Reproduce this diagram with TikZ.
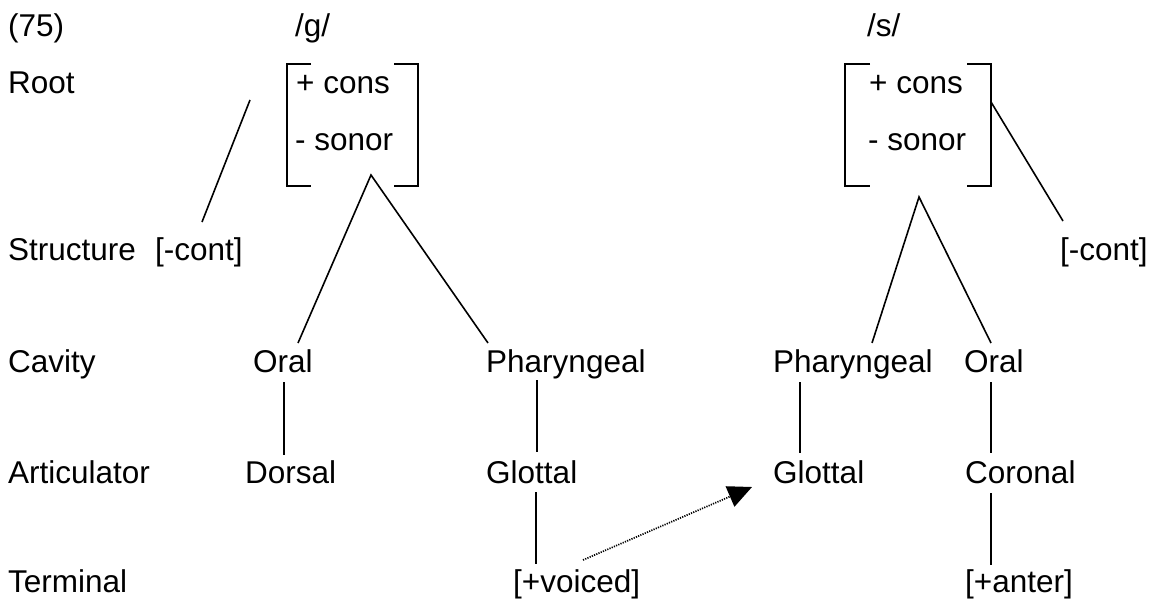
\documentclass[tikz,border=0pt]{standalone}
\usepackage{fontspec}
\setmainfont{Liberation Sans}
\usetikzlibrary{arrows.meta}
\begin{document}
\begin{tikzpicture}[x=1pt,y=-1pt,
  lbl/.style={anchor=base west,inner sep=0pt,font=\fontsize{31.5}{36}\selectfont},
  branch/.style={line width=1.6pt},
  brk/.style={line width=1.8pt},
  spread/.style={line width=1.7pt,dash pattern=on 1.2pt off 1.2pt,
    -{Triangle[length=24pt,width=22pt]}}]
\useasboundingbox (0,0) rectangle (1150,599);

% tier labels
\node[lbl] (num)   at (8,37)  {(75)};
\node[lbl] (tRoot) at (8,94)  {Root};
\node[lbl] (tStr)  at (8,260) {Structure};
\node[lbl] (tCav)  at (8,372) {Cavity};
\node[lbl] (tArt)  at (8,483) {Articulator};
\node[lbl] (tTer)  at (8,592) {Terminal};

% segment /g/
\node[lbl] (gSeg)   at (295,37)  {/g/};
\node[lbl] (gCons)  at (296,94)  {+ cons};
\node[lbl] (gSon)   at (295,150) {- sonor};
\node[lbl] (gCont)  at (155,260) {[-cont]};
\node[lbl] (gOral)  at (253,372) {Oral};
\node[lbl] (gPhar)  at (486,372) {Pharyngeal};
\node[lbl] (gDors)  at (245,483) {Dorsal};
\node[lbl] (gGlot)  at (486,483) {Glottal};
\node[lbl] (gVoi)   at (513,592) {[+voiced]};

% segment /s/
\node[lbl] (sSeg)   at (867,37)  {/s/};
\node[lbl] (sCons)  at (869,94)  {+ cons};
\node[lbl] (sSon)   at (868,150) {- sonor};
\node[lbl] (sCont)  at (1060,260) {[-cont]};
\node[lbl] (sPhar)  at (773,372) {Pharyngeal};
\node[lbl] (sOral)  at (964,372) {Oral};
\node[lbl] (sGlot)  at (773,483) {Glottal};
\node[lbl] (sCor)   at (965,483) {Coronal};
\node[lbl] (sAnt)   at (965,592) {[+anter]};

% root matrices
\draw[brk] (311,64) -- (287,64) -- (287,186) -- (311,186);
\draw[brk] (394,64) -- (418,64) -- (418,186) -- (394,186);
\draw[brk] (870,64) -- (845,64) -- (845,186) -- (870,186);
\draw[brk] (967,64) -- (991,64) -- (991,186) -- (967,186);

% attachment points
\coordinate (gApex)  at (371,175);
\coordinate (gRootL) at (250,100);
\coordinate (gContT) at (202,222);
\coordinate (gOralT) at (298,343);
\coordinate (gPharT) at (488,343);
\coordinate (gOralB) at (284,382);
\coordinate (gDorsT) at (284,455);
\coordinate (gPharB) at (537,380);
\coordinate (gGlotT) at (537,452);
\coordinate (gGlotB) at (536,492);
\coordinate (gVoiT)  at (536,564);
\coordinate (gVoiR)  at (583,560);

\coordinate (sApex)  at (919,197);
\coordinate (sRootR) at (991,102);
\coordinate (sContT) at (1063,221);
\coordinate (sPharT) at (872,343);
\coordinate (sOralT) at (991,343);
\coordinate (sPharB) at (800,382);
\coordinate (sGlotT) at (800,453);
\coordinate (sGlotL) at (752,487);
\coordinate (sOralB) at (991,382);
\coordinate (sCorT)  at (991,453);
\coordinate (sCorB)  at (991,493);
\coordinate (sAntT)  at (991,565);

% /g/ tree
\draw[branch] (gRootL) -- (gContT);
\draw[branch] (gOralT) -- (gApex) -- (gPharT);
\draw[branch] (gOralB) -- (gDorsT);
\draw[branch] (gPharB) -- (gGlotT);
\draw[branch] (gGlotB) -- (gVoiT);

% /s/ tree
\draw[branch] (sRootR) -- (sContT);
\draw[branch] (sPharT) -- (sApex) -- (sOralT);
\draw[branch] (sPharB) -- (sGlotT);
\draw[branch] (sOralB) -- (sCorT);
\draw[branch] (sCorB) -- (sAntT);

% spreading of [+voiced]
\draw[spread] (gVoiR) -- (sGlotL);
\end{tikzpicture}
\end{document}
